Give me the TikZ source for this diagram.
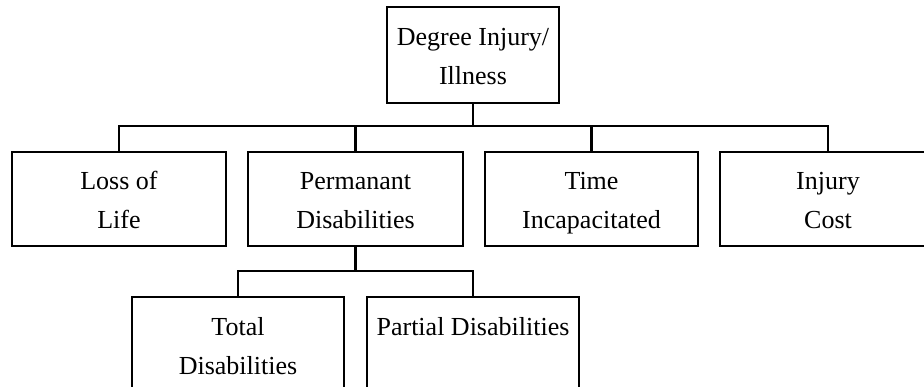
\documentclass[tikz,border=0pt]{standalone}
\usepackage{fontspec}
\setmainfont{Liberation Serif}
\begin{document}
\begin{tikzpicture}[x=1pt,y=-1pt,
  box/.style={draw, line width=2.2pt, align=center, inner sep=0pt,
    font=\fontsize{26}{39}\selectfont, minimum height=94pt, minimum width=214pt,
    execute at begin node=\rule{0pt}{66pt}, execute at end node=\rule[-6pt]{0pt}{6pt}},
  conn/.style={line width=2.2pt}]
\useasboundingbox (0,0) rectangle (924,387);
\clip (0,0) rectangle (924,387);
\node[box, minimum width=172pt, minimum height=96pt] (top) at (473,55) {Degree Injury/\\Illness};
\node[box] (loss) at (119,199) {Loss of\\Life};
\node[box, minimum width=215pt] (perm) at (355.5,199) {Permanant\\Disabilities};
\node[box, minimum width=213pt] (time) at (591.5,199) {Time\\Incapacitated};
\node[box, minimum width=216pt] (cost) at (828,199) {Injury\\Cost};
\node[box, minimum width=212pt] (total) at (238,344) {Total\\Disabilities};
\node[box, minimum width=212pt] (partial) at (473,344) {Partial Disabilities\\};
\coordinate (bus) at (top.south |- 0,126);
\coordinate (subbus) at (perm.south |- 0,271);
\draw[conn] (top.south) -- (bus);
\draw[conn] (bus) -| (loss.north);
\draw[conn] (bus) -| (perm.north);
\draw[conn] (bus) -| (time.north);
\draw[conn] (bus) -| (cost.north);
\draw[conn] (perm.south) -- (subbus);
\draw[conn] (subbus) -| (total.north);
\draw[conn] (subbus) -| (partial.north);
\end{tikzpicture}
\end{document}
